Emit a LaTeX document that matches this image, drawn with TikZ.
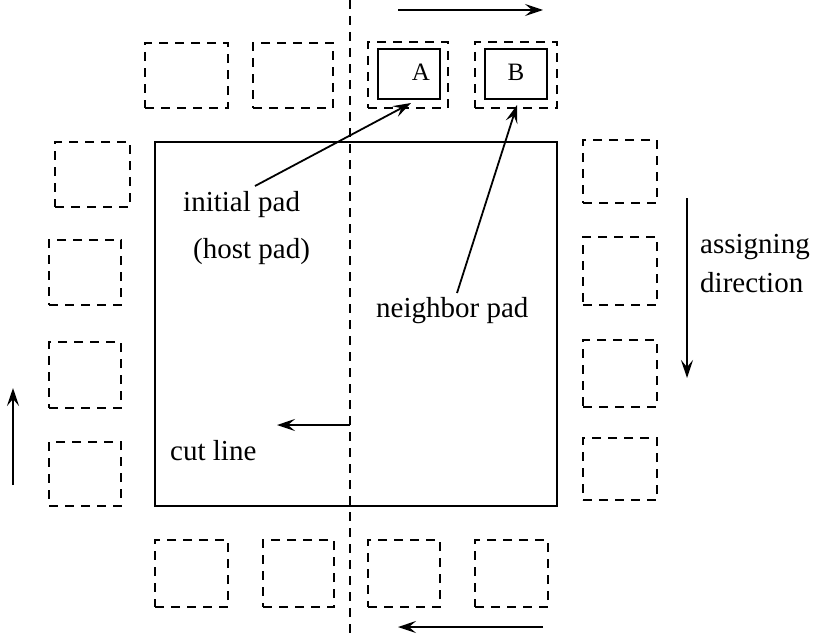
\documentclass[tikz,border=0pt]{standalone}
\usepackage{fontspec}
\setmainfont{Liberation Serif}
\usetikzlibrary{arrows.meta}
\begin{document}
\begin{tikzpicture}[x=1pt,y=-1pt,
  pad/.style={draw,line width=2pt,dash pattern=on 9pt off 7pt,inner sep=0pt},
  solidpad/.style={draw,line width=1.8pt,inner sep=0pt},
  lbl/.style={anchor=base west,inner sep=0pt,font=\fontsize{29}{34}\selectfont},
  arr/.style={line width=1.8pt,-{Stealth[length=18pt,width=12pt,inset=7pt]}},
  cutstyle/.style={line width=2pt,dash pattern=on 9pt off 7pt}]
\useasboundingbox (0,0) rectangle (813,634);
\newcommand{\padbox}[5]{\node[pad,minimum width={#3-#2},minimum height={#5-#4}] (#1) at ({(#2+#3)/2},{(#4+#5)/2}) {};}
% main box
\node[draw,line width=2pt,minimum width=402pt,minimum height=364pt,inner sep=0pt] (main) at (356,324) {};
% top pads
\padbox{t1}{145}{228}{43}{108}
\padbox{t2}{253}{333}{43}{108}
\padbox{tA}{368}{448}{42}{108}
\padbox{tB}{475}{557}{42}{108}
\node[solidpad,minimum width=62pt,minimum height=50pt] (A) at (409,74) {};
\node[solidpad,minimum width=62pt,minimum height=50pt] (B) at (516,74) {};
\node[anchor=base,inner sep=0pt,font=\fontsize{25}{30}\selectfont] (Atxt) at (421,80) {A};
\node[anchor=base,inner sep=0pt,font=\fontsize{25}{30}\selectfont] (Btxt) at (516,80) {B};
% left pads
\padbox{l1}{55}{130}{142}{207}
\padbox{l2}{49}{121}{240}{305}
\padbox{l3}{49}{121}{342}{408}
\padbox{l4}{49}{121}{442}{506}
% right pads
\padbox{r1}{583}{657}{140}{203}
\padbox{r2}{583}{657}{237}{305}
\padbox{r3}{583}{657}{340}{407}
\padbox{r4}{583}{657}{438}{500}
% bottom pads
\padbox{b1}{155}{228}{540}{607}
\padbox{b2}{263}{334}{540}{607}
\padbox{b3}{368}{440}{540}{607}
\padbox{b4}{475}{548}{540}{607}
% cut line
\coordinate (ctop) at (350,0);
\coordinate (cbot) at (350,634);
\draw[cutstyle] (ctop) -- (cbot);
% labels
\node[lbl] (init) at (183,211) {initial pad};
\node[lbl] (host) at (193,258) {(host pad)};
\node[lbl] (neigh) at (376,317) {neighbor pad};
\node[lbl] (cut) at (170,460) {cut line};
\node[lbl] (assign) at (700,253) {assigning};
\node[lbl] (dir) at (700,292) {direction};
% arrows
\coordinate (ta1) at (398,10); \coordinate (ta2) at (543,10);
\draw[arr] (ta1) -- (ta2);
\coordinate (ba1) at (543,627); \coordinate (ba2) at (398,627);
\draw[arr] (ba1) -- (ba2);
\coordinate (la1) at (13,485); \coordinate (la2) at (13,388);
\draw[arr] (la1) -- (la2);
\coordinate (ra1) at (687,198); \coordinate (ra2) at (687,378);
\draw[arr] (ra1) -- (ra2);
\coordinate (ca1) at (350,425); \coordinate (ca2) at (277,425);
\draw[arr] (ca1) -- (ca2);
\coordinate (ia1) at (255,186); \coordinate (ia2) at (411,103);
\draw[arr] (ia1) -- (ia2);
\coordinate (na1) at (457,293); \coordinate (na2) at (517,105);
\draw[arr] (na1) -- (na2);
\end{tikzpicture}
\end{document}
